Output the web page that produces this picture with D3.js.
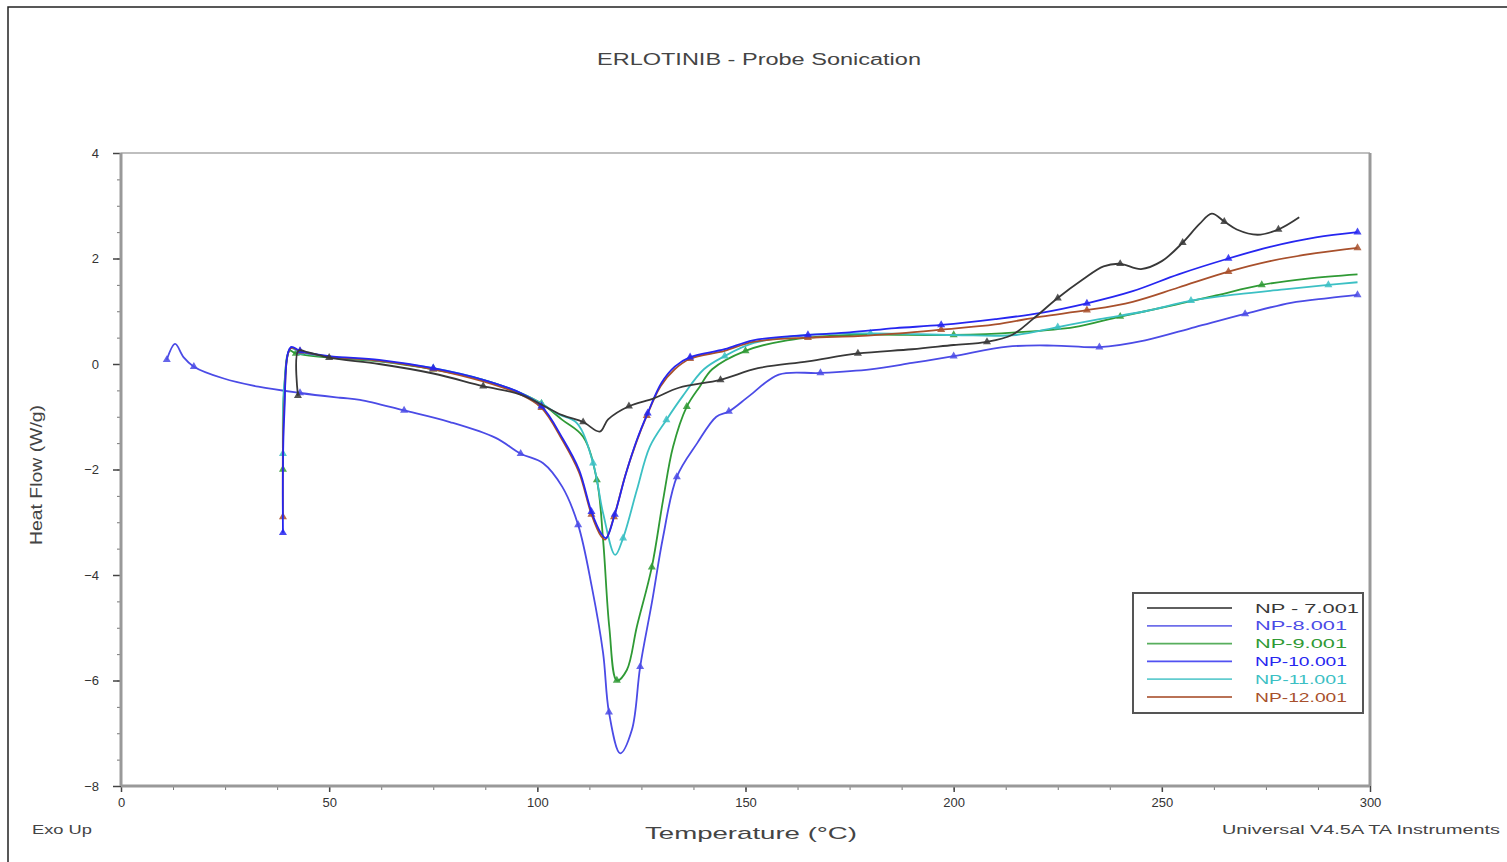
<!DOCTYPE html>
<html>
<head>
<meta charset="utf-8">
<script src="https://cdn.jsdelivr.net/npm/d3@7"></script>
<style>
  body { margin: 0; background: #fff; }
  text { font-family: "Liberation Sans", Arial, sans-serif; }
</style>
</head>
<body>
<div id="chart"></div>
<script>
// series names and colours, in legend order
const seriesNames = ["NP - 7.001", "NP-8.001", "NP-9.001", "NP-10.001", "NP-11.001", "NP-12.001"];
const seriesColors = ["#383838", "#4b4be6", "#2f9a35", "#2626f0", "#3cc0c4", "#a8502c"];

// [temperature °C, heat flow W/g]
const np7 = [[42.5,-0.6],[42.6,0.25],[45,0.22],[50,0.12],[62,0.0],[75,-0.18],[87,-0.42],[96,-0.58],[106,-0.97],[111,-1.1],[115,-1.28],[117,-1.05],[122,-0.8],[128,-0.65],[134,-0.45],[144,-0.3],[153,-0.08],[165,0.05],[177,0.2],[190,0.28],[200,0.36],[208,0.42],[214,0.55],[219,0.85],[225,1.25],[231,1.6],[236,1.85],[240,1.9],[245,1.8],[250,1.95],[255,2.3],[259,2.65],[262,2.85],[265,2.7],[268,2.55],[273,2.45],[278,2.55],[283,2.78]];
const np8 = [[11,0.08],[13,0.38],[15,0.13],[17.5,-0.05],[24.5,-0.27],[33,-0.43],[43,-0.55],[52.6,-0.64],[57.4,-0.68],[68,-0.88],[79,-1.1],[90,-1.4],[96,-1.7],[101.4,-1.88],[106,-2.33],[109.8,-3.05],[113.1,-4.23],[115.8,-5.48],[117.2,-6.6],[119.9,-7.38],[122.7,-6.94],[124.7,-5.74],[127.5,-4.53],[130.2,-3.28],[133.5,-2.14],[138.4,-1.5],[143,-1.0],[146,-0.9],[151,-0.6],[158,-0.2],[168,-0.17],[180,-0.1],[190,0.02],[200,0.15],[213,0.33],[224,0.35],[235,0.32],[246,0.45],[258,0.7],[270,0.95],[281,1.16],[290,1.25],[297,1.31]];
const np9 = [[38.9,-2.0],[39.2,-0.5],[40.5,0.25],[42,0.2],[50,0.12],[62,0.05],[75,-0.1],[87,-0.3],[96,-0.55],[101,-0.75],[106,-1.06],[111,-1.38],[114.3,-2.2],[115.8,-3.34],[117.3,-5.0],[119.1,-6.0],[121.5,-5.8],[123.9,-4.98],[127.5,-3.85],[130.2,-2.58],[132.6,-1.57],[135.9,-0.81],[139,-0.43],[142,-0.1],[150,0.25],[160,0.45],[175,0.55],[200,0.55],[215,0.6],[229,0.7],[240,0.9],[252,1.1],[263,1.3],[274,1.5],[285,1.62],[297,1.7]];
const np10 = [[38.9,-3.2],[39.2,-1.0],[40.8,0.32],[43,0.25],[50,0.15],[62,0.08],[75,-0.08],[87,-0.3],[96,-0.55],[101,-0.8],[106,-1.4],[110,-2.0],[113,-2.8],[115.4,-3.22],[116.5,-3.3],[118.6,-2.85],[121.3,-2.07],[123.9,-1.44],[126.5,-0.93],[129.8,-0.36],[133,-0.05],[136.7,0.13],[145,0.28],[151.8,0.45],[165,0.55],[175,0.6],[186,0.68],[197,0.74],[210,0.85],[221,0.97],[232,1.15],[243,1.38],[254,1.7],[266,2.0],[276,2.22],[287,2.4],[297,2.5]];
const np11 = [[38.9,-1.7],[39.2,-0.4],[40.8,0.3],[43,0.22],[50,0.14],[62,0.06],[75,-0.08],[87,-0.3],[96,-0.55],[101,-0.75],[105,-0.95],[109.5,-1.12],[113.4,-1.88],[115.8,-2.83],[118.7,-3.62],[120.6,-3.3],[123.9,-2.39],[127,-1.57],[131,-1.06],[135,-0.6],[140,-0.1],[145,0.15],[152,0.4],[165,0.55],[180,0.58],[200,0.55],[215,0.55],[225,0.7],[235,0.85],[246,1.0],[257,1.2],[268,1.32],[280,1.42],[290,1.5],[297,1.55]];
const np12 = [[38.9,-2.9],[39.2,-0.8],[40.8,0.3],[43,0.24],[50,0.14],[62,0.06],[75,-0.1],[87,-0.33],[96,-0.58],[101,-0.83],[106,-1.44],[110,-2.05],[113,-2.85],[115.3,-3.26],[116.3,-3.33],[118.4,-2.9],[121.1,-2.12],[123.7,-1.5],[126.3,-0.98],[129.6,-0.42],[133,-0.1],[136.7,0.1],[145,0.25],[151.8,0.42],[165,0.5],[177,0.53],[187,0.58],[197,0.65],[210,0.75],[221,0.9],[232,1.02],[243,1.18],[254,1.45],[266,1.75],[276,1.95],[287,2.1],[297,2.2]];

const allSeries = [np7, np8, np9, np10, np11, np12];
// draw order so the bright blue sits on top of the brown (gives the purple look)
const drawOrder = [1, 2, 4, 5, 3, 0];

const xTicks = [0, 50, 100, 150, 200, 250, 300];
const yTicks = [4, 2, 0, -2, -4, -6, -8];

const W = 1507, H = 862;
const plot = {left: 121, right: 1370, top: 153, bottom: 786};

const svg = d3.select("#chart").append("svg")
  .attr("width", W)
  .attr("height", H);

// outer frame of the exported picture
svg.append("rect")
  .attr("x", 8).attr("y", 7)
  .attr("width", W).attr("height", H)
  .attr("fill", "none")
  .attr("stroke", "#222")
  .attr("stroke-width", 1.5);

let x = d3.scaleLinear().domain([0, 300]).range([plot.left, plot.right]);
let y = d3.scaleLinear().domain([-8, 4]).range([plot.bottom, plot.top]);

// minor ticks
svg.append("g")
  .attr("transform", "translate(" + plot.left + ",0)")
  .call(d3.axisLeft(y).tickValues(d3.range(-8, 4.01, 0.5)).tickSize(4).tickFormat(""))
  .call(g => g.select(".domain").remove())
  .selectAll("line").attr("stroke", "#777");
svg.append("g")
  .attr("transform", "translate(0," + plot.bottom + ")")
  .call(d3.axisBottom(x).tickValues(d3.range(0, 300.1, 12.5)).tickSize(4).tickFormat(""))
  .call(g => g.select(".domain").remove())
  .selectAll("line").attr("stroke", "#777");

// major ticks + labels
let yAxis = svg.append("g")
  .attr("transform", "translate(" + plot.left + ",0)")
  .call(d3.axisLeft(y).tickValues(yTicks).tickSize(8).tickPadding(14));
yAxis.select(".domain").remove();
yAxis.selectAll("line").attr("stroke", "#444").attr("stroke-width", 1.5);
yAxis.selectAll("text").attr("font-size", 13).attr("fill", "#333")
  .attr("font-family", "Liberation Sans, Arial, sans-serif");

let xAxis = svg.append("g")
  .attr("transform", "translate(0," + plot.bottom + ")")
  .call(d3.axisBottom(x).tickValues(xTicks).tickSize(6).tickPadding(6));
xAxis.select(".domain").remove();
xAxis.selectAll("line").attr("stroke", "#444").attr("stroke-width", 1.5);
xAxis.selectAll("text").attr("font-size", 13).attr("fill", "#333")
  .attr("font-family", "Liberation Sans, Arial, sans-serif");

// plot frame (grey)
svg.append("line").attr("x1", plot.left).attr("x2", plot.right).attr("y1", plot.top).attr("y2", plot.top)
  .attr("stroke", "#aaa").attr("stroke-width", 1.5);
svg.append("line").attr("x1", plot.right).attr("x2", plot.right).attr("y1", plot.top).attr("y2", plot.bottom)
  .attr("stroke", "#999").attr("stroke-width", 3);
svg.append("line").attr("x1", plot.left).attr("x2", plot.left).attr("y1", plot.top).attr("y2", plot.bottom)
  .attr("stroke", "#999").attr("stroke-width", 3);
svg.append("line").attr("x1", plot.left).attr("x2", plot.right).attr("y1", plot.bottom).attr("y2", plot.bottom)
  .attr("stroke", "#999").attr("stroke-width", 3);

// curves
let line = d3.line()
  .x(d => x(d[0]))
  .y(d => y(d[1]))
  .curve(d3.curveCatmullRom.alpha(0.5));

let triangle = d3.symbol().type(d3.symbolTriangle).size(28);

drawOrder.forEach(i => {
  let data = allSeries[i];
  svg.append("path")
    .datum(data)
    .attr("d", line)
    .attr("fill", "none")
    .attr("stroke", seriesColors[i])
    .attr("stroke-width", 1.8)
    .attr("stroke-linejoin", "round");

  svg.append("g")
    .selectAll("path")
    .data(data.filter((d, k) => k % 3 === 0))
    .enter()
    .append("path")
      .attr("d", triangle)
      .attr("transform", d => "translate(" + x(d[0]) + "," + y(d[1]) + ")")
      .attr("fill", seriesColors[i])
      .attr("opacity", 0.85);
});

// title and labels
svg.append("text")
  .attr("x", 759).attr("y", 65)
  .attr("text-anchor", "middle")
  .attr("font-size", 16)
  .attr("fill", "#444")
  .attr("textLength", 324)
  .attr("lengthAdjust", "spacingAndGlyphs")
  .text("ERLOTINIB - Probe Sonication");

svg.append("text")
  .attr("x", 751).attr("y", 839)
  .attr("text-anchor", "middle")
  .attr("font-size", 17)
  .attr("fill", "#444")
  .attr("textLength", 212)
  .attr("lengthAdjust", "spacingAndGlyphs")
  .text("Temperature (°C)");

svg.append("text")
  .attr("transform", "translate(42,475) rotate(-90)")
  .attr("text-anchor", "middle")
  .attr("font-size", 17)
  .attr("fill", "#444")
  .attr("textLength", 140)
  .attr("lengthAdjust", "spacingAndGlyphs")
  .text("Heat Flow (W/g)");

svg.append("text")
  .attr("x", 32).attr("y", 834)
  .attr("font-size", 12)
  .attr("fill", "#444")
  .attr("textLength", 60)
  .attr("lengthAdjust", "spacingAndGlyphs")
  .text("Exo Up");

svg.append("text")
  .attr("x", 1222).attr("y", 834)
  .attr("font-size", 12)
  .attr("fill", "#444")
  .attr("textLength", 278)
  .attr("lengthAdjust", "spacingAndGlyphs")
  .text("Universal V4.5A TA Instruments");

// legend
let legend = svg.append("g").attr("transform", "translate(1133,593)");
legend.append("rect")
  .attr("width", 230).attr("height", 120)
  .attr("fill", "#fff")
  .attr("stroke", "#555")
  .attr("stroke-width", 2);

seriesNames.forEach((name, i) => {
  let yy = 15 + i * 17.8;
  legend.append("line")
    .attr("x1", 14).attr("x2", 99)
    .attr("y1", yy).attr("y2", yy)
    .attr("stroke", seriesColors[i])
    .attr("stroke-width", 1.8)
    .attr("opacity", 0.8);
  legend.append("text")
    .attr("x", 122).attr("y", yy + 4.5)
    .attr("font-size", 12.5)
    .attr("fill", seriesColors[i])
    .attr("textLength", name.length > 9 ? 104 : 92)
    .attr("lengthAdjust", "spacingAndGlyphs")
    .text(name);
});
</script>
</body>
</html>
